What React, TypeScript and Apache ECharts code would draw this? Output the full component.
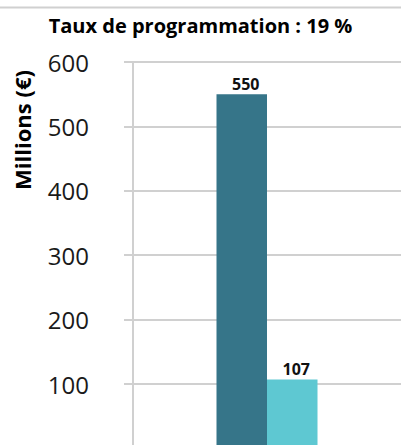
import React, { useEffect, useRef } from "react";
import * as echarts from "echarts";

const categories = [""];
const seriesNames = ["Montant total", "Montant programmé"];
const totalValues = [550];
const programmedValues = [107];
const yTicks = { min: 0, max: 600, interval: 100 };
const titleText = "Taux de programmation : 19 %";
const yAxisName = "Millions (€)";

export default function App() {
  const ref = useRef<HTMLDivElement>(null);
  useEffect(() => {
    if (!ref.current) return;
    const chart = echarts.init(ref.current, null, { renderer: "svg" });
    const font = "'Open Sans', sans-serif";
    const labelStyle = {
      show: true,
      position: "top",
      distance: 2,
      offset: [4, 0],
      fontFamily: font,
      fontWeight: "bold",
      fontSize: 16,
      color: "#111",
    };
    chart.setOption({
      animation: false,
      title: {
        text: titleText,
        left: "center",
        top: 10,
        textStyle: { fontFamily: font, fontWeight: "bold", fontSize: 20, color: "#000" },
      },
      graphic: [
        {
          type: "line",
          shape: { x1: 0, y1: 7.5, x2: 401, y2: 7.5 },
          style: { stroke: "#d0d0d0", lineWidth: 2 },
        },
        {
          type: "text",
          x: 22,
          y: 130,
          rotation: Math.PI / 2,
          style: {
            text: yAxisName,
            fontFamily: font,
            fontWeight: "bold",
            fontSize: 22,
            fill: "#000",
            align: "center",
            verticalAlign: "middle",
          },
        },
      ],
      grid: {
        left: 133,
        top: 62,
        width: 268,
        height: 386.4,
        containLabel: false,
        outerBoundsMode: "none",
      },
      xAxis: {
        type: "category",
        data: categories,
        show: false,
      },
      yAxis: {
        type: "value",
        min: yTicks.min,
        max: yTicks.max,
        interval: yTicks.interval,
        axisLine: { show: true, lineStyle: { color: "#d0d0d0", width: 2 } },
        axisTick: { show: true, length: 9, lineStyle: { color: "#d0d0d0", width: 2 } },
        splitLine: { show: true, lineStyle: { color: "#d0d0d0", width: 2 } },
        axisLabel: {
          margin: 44,
          fontFamily: font,
          fontSize: 24,
          color: "#1a1a1a",
          showMinLabel: false,
        },
      },
      series: [
        {
          name: seriesNames[0],
          type: "bar",
          data: totalValues,
          barWidth: 50.5,
          barGap: "0%",
          itemStyle: { color: "#367589" },
          label: labelStyle,
        },
        {
          name: seriesNames[1],
          type: "bar",
          data: programmedValues,
          barWidth: 50.5,
          barGap: "0%",
          itemStyle: { color: "#5ec8d2" },
          label: labelStyle,
        },
      ],
    });
    return () => chart.dispose();
  }, []);
  return (
    <div
      ref={ref}
      style={{ position: "fixed", left: 0, top: 0, width: 401, height: 445, background: "#fff" }}
    />
  );
}
